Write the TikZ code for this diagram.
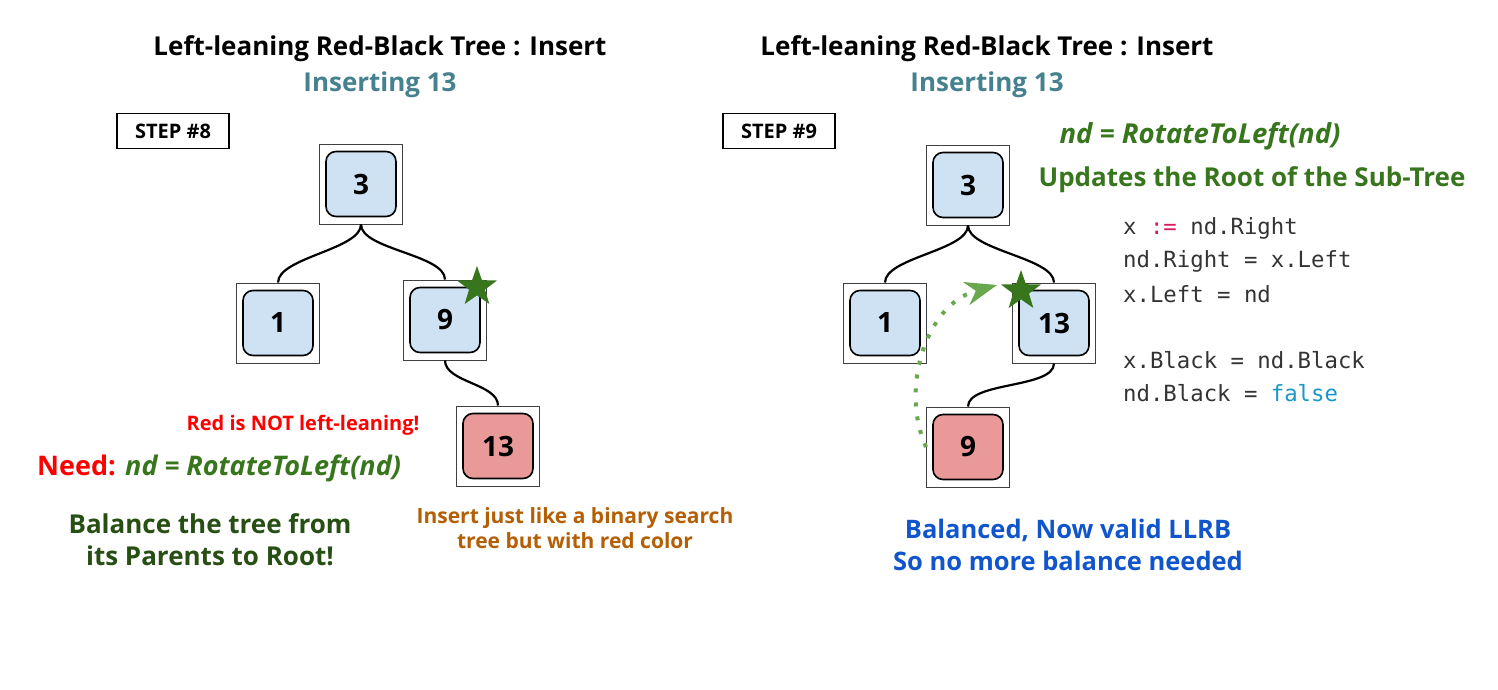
\documentclass[tikz,border=0pt]{standalone}
\usepackage{fontspec}
\setmainfont{Open Sans}
\setmonofont{DejaVu Sans Mono}
\usetikzlibrary{shapes.geometric,arrows.meta}
\definecolor{keyblue}{HTML}{CFE2F3}
\definecolor{keyred}{HTML}{EA9999}
\definecolor{subteal}{HTML}{45818E}
\definecolor{rotgreen}{HTML}{38761D}
\definecolor{baldgreen}{HTML}{274E13}
\definecolor{noteorange}{HTML}{B45F06}
\definecolor{okblue}{HTML}{1155CC}
\definecolor{dotgreen}{HTML}{6AA84F}
\definecolor{codegray}{HTML}{333333}
\definecolor{codepink}{HTML}{D81B60}
\definecolor{codecyan}{HTML}{1A96C8}
\tikzset{
  outbox/.style={draw=black!75, line width=0.9pt, minimum width=83pt, minimum height=80pt, inner sep=0pt},
  keybox/.style={draw, line width=1.6pt, rounded corners=10pt, fill=#1, minimum width=70pt, minimum height=65pt, inner sep=0pt, font=\bfseries\fontsize{28}{32}\selectfont},
  link/.style={line width=2.2pt},
  stepbox/.style={draw, line width=1.4pt, minimum width=112pt, minimum height=35pt, inner sep=0pt, font=\bfseries\fontsize{20}{24}\selectfont},
  hotstar/.style={star, star points=5, star point ratio=2.5, fill=rotgreen, minimum size=42pt, inner sep=0pt},
  title/.style={font=\bfseries\fontsize{26}{30}\selectfont},
  subtitle/.style={font=\bfseries\fontsize{26}{30}\selectfont, text=subteal},
  codeline/.style={anchor=west, inner sep=0pt, text=codegray, font=\ttfamily\fontsize{22.3}{26}\selectfont},
}
\begin{document}
\begin{tikzpicture}[x=1pt,y=-1pt]
\useasboundingbox (0,0) rectangle (1498,690);
\node[title] (title8) at (380,49) {Left-leaning Red-Black Tree : Insert};
\node[subtitle] (sub8) at (380,85) {Inserting 13};
\node[stepbox] (step8) at (173,131) {STEP \#8};
\node[outbox] (a3) at (361,184) {};\node[keybox=keyblue] (a3k) at (a3) {3};
\node[outbox] (a1) at (278,323) {};\node[keybox=keyblue] (a1k) at (a1) {1};
\node[outbox] (a9) at (445,320) {};\node[keybox=keyblue] (a9k) at (a9) {9};
\node[outbox] (a13) at (498,446) {};\node[keybox=keyred] (a13k) at (a13) {13};
\draw[link] (a3.south) .. controls +(0,25) and +(0,-25) .. (a1.north);
\draw[link] (a3.south) .. controls +(0,25) and +(0,-25) .. (a9.north);
\draw[link] (a9.south) .. controls +(0,22) and +(0,-22) .. (a13.north);
\node[hotstar] (star8) at (477,287) {};
\node[font=\bfseries\fontsize{20}{24}\selectfont, text=red] (warn) at (303,425) {Red is NOT left-leaning!};
\node[anchor=west, inner sep=0pt, font=\bfseries\fontsize{27}{32}\selectfont] (need) at (37,468) {\textcolor{red}{Need:} \textcolor{rotgreen}{\itshape nd = RotateToLeft(nd)}};
\node[align=center, font=\bfseries\fontsize{26}{32}\selectfont, text=baldgreen] (todo) at (210,540) {Balance the tree from\\its Parents to Root!};
\node[align=center, font=\bfseries\fontsize{21}{25}\selectfont, text=noteorange] (howto) at (575,528) {Insert just like a binary search\\tree but with red color};
\begin{scope}[xshift=607pt]
\node[title] (title9) at (380,49) {Left-leaning Red-Black Tree : Insert};
\node[subtitle] (sub9) at (380,85) {Inserting 13};
\node[stepbox] (step9) at (172,131) {STEP \#9};
\node[outbox] (b3) at (361,185) {};\node[keybox=keyblue] (b3k) at (b3) {3};
\node[outbox] (b1) at (278,323) {};\node[keybox=keyblue] (b1k) at (b1) {1};
\node[outbox] (b13) at (447,323) {};\node[keybox=keyblue] (b13k) at (b13) {13};
\node[outbox] (b9) at (361,447) {};\node[keybox=keyred] (b9k) at (b9) {9};
\draw[link] (b3.south) .. controls +(0,25) and +(0,-25) .. (b1.north);
\draw[link] (b3.south) .. controls +(0,25) and +(0,-25) .. (b13.north);
\draw[link] (b13.south) .. controls +(0,25) and +(0,-25) .. (b9.north);
\coordinate (tip) at (390,285);
\draw[dotgreen, line width=4pt, dash pattern=on 4pt off 10pt, -{Stealth[length=32pt,width=24pt,inset=10pt,line width=0pt]}] (b9.west) .. controls (293,390) and (318,305) .. (tip);
\node[hotstar] (star9) at (414,291) {};
\node[font=\bfseries\itshape\fontsize{27.5}{32}\selectfont, text=rotgreen] (rot) at (593,136) {nd = RotateToLeft(nd)};
\node[font=\bfseries\fontsize{26}{30}\selectfont, text=rotgreen] (upd) at (645,180) {Updates the Root of the Sub-Tree};
\node[codeline] (c1) at (516,228) {x \textcolor{codepink}{:=} nd.Right};
\node[codeline] (c2) at (516,261) {nd.Right = x.Left};
\node[codeline] (c3) at (516,294) {x.Left = nd};
\node[codeline] (c4) at (516,360) {x.Black = nd.Black};
\node[codeline] (c5) at (516,393) {nd.Black = \textcolor{codecyan}{false}};
\node[align=center, font=\bfseries\fontsize{25.5}{32}\selectfont, text=okblue] (done) at (461,545) {Balanced, Now valid LLRB\\So no more balance needed};
\end{scope}
\end{tikzpicture}
\end{document}
